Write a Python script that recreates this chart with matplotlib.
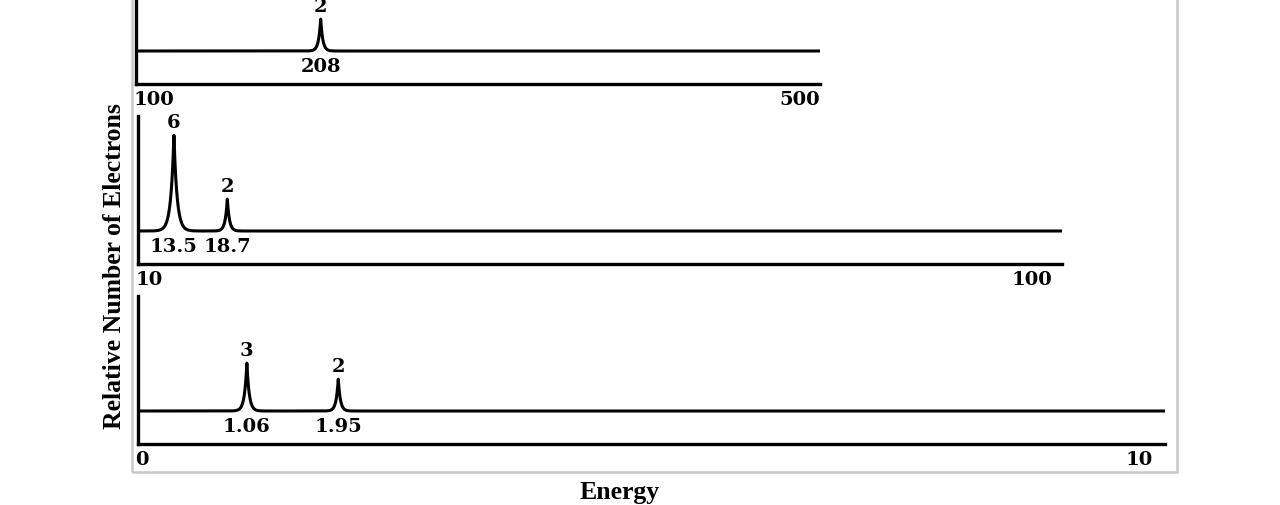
import numpy as np
import matplotlib.pyplot as plt
from matplotlib.patches import Rectangle

# Panel data (top to bottom)
ranges = [(100, 500), (10, 100), (0, 10)]
peak_pos = [[208], [13.5, 18.7], [1.06, 1.95]]
peak_labels = [["208"], ["13.5", "18.7"], ["1.06", "1.95"]]
peak_counts = [[2], [6, 2], [3, 2]]

W, H = 1280, 506
fig = plt.figure(figsize=(W / 100, H / 100), dpi=100)

num_font = dict(family="DejaVu Serif", fontweight="bold", fontsize=14)
lab_font = dict(family="Liberation Serif", fontweight="bold", fontsize=18.5)

# light grey frame around the plotting region
fig.add_artist(Rectangle((132 / W, 1 - 473 / H), (1177 - 132) / W, 473 / H + 0.05,
                         transform=fig.transFigure, fill=False,
                         edgecolor="#c8c8c8", lw=1.8))

# pixel geometry of each panel: left, right, bottom axis line, right-label shift
geom = [(136, 820, 85, 0), (138, 1062, 265, -10), (138, 1165, 445, -12)]
panel_h = 148          # pixel height of each panel
px_per_count = 16.0
base = 33 / px_per_count   # baseline height above the axis line, in counts

for (lo, hi), pos, labs, cnts, (l, r, b, dx) in zip(ranges, peak_pos, peak_labels,
                                                    peak_counts, geom):
    ax = fig.add_axes([l / W, 1 - b / H, (r - l) / W, panel_h / H])
    ax.set_xlim(lo, hi)
    ax.set_ylim(0, panel_h / px_per_count)
    for s in ["top", "right"]:
        ax.spines[s].set_visible(False)
    ax.spines["left"].set_linewidth(2.4)
    ax.spines["bottom"].set_linewidth(2.4)
    ax.set_xticks([])
    ax.set_yticks([])
    ax.patch.set_visible(False)

    # spectrum: flat baseline with narrow cusp-shaped peaks
    x = np.linspace(lo, hi, 20000)
    y = np.full_like(x, base)
    px = (hi - lo) / (r - l)   # data units per pixel
    for p, c in zip(pos, cnts):
        w = px * (1.6 + 0.25 * c)
        y += c * np.exp(-np.abs(x - p) / w)
    ax.plot(x, y, color="black", lw=2.2, solid_capstyle="butt", clip_on=False)

    for p, c, t in zip(pos, cnts, labs):
        ax.annotate(str(c), (p, base + c), xytext=(0, 3), textcoords="offset points",
                    ha="center", va="bottom", **num_font)
        ax.annotate(t, (p, base), xytext=(0, -4), textcoords="offset points",
                    ha="center", va="top", **num_font)

    ax.annotate(str(lo), (lo, 0), xytext=(-2, -4), textcoords="offset points",
                ha="left", va="top", annotation_clip=False, **num_font)
    ax.annotate(str(hi), (hi, 0), xytext=(dx * 0.72, -4), textcoords="offset points",
                ha="right", va="top", annotation_clip=False, **num_font)

fig.text(115 / W, 1 - 266 / H, "Relative Number of Electrons", rotation=90,
         ha="center", va="center", **lab_font)
fig.text(620 / W, 1 - 493 / H, "Energy", ha="center", va="center", **lab_font)

fig.savefig("out.png", dpi=100)
